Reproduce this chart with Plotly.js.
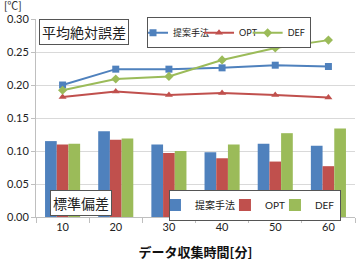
<!DOCTYPE html>
<html><head><meta charset="utf-8">
<script src="https://cdn.plot.ly/plotly-3.0.1.min.js"></script>
<style>html,body{margin:0;padding:0;background:#fff}</style>
</head><body><div id="chart" style="width:359px;height:266px"></div>
<script>
const categories = ["10","20","30","40","50","60"];
const seriesNames = ["提案手法","OPT","DEF"];
// 平均絶対誤差 (lines)
const maeProposed = [0.200,0.224,0.224,0.226,0.230,0.228];
const maeOPT      = [0.182,0.190,0.185,0.188,0.185,0.181];
const maeDEF      = [0.192,0.209,0.213,0.238,0.256,0.268];
// 標準偏差 (bars)
const sdProposed = [0.115,0.130,0.110,0.098,0.111,0.108];
const sdOPT      = [0.110,0.117,0.097,0.089,0.084,0.077];
const sdDEF      = [0.111,0.119,0.100,0.110,0.127,0.134];
const yTicks = [0,0.05,0.10,0.15,0.20,0.25,0.30];

const colors = ["#4F81BD","#C0504D","#9BBB59"];
const symbols = ["square","triangle-up","diamond"];
const font = "Lato, 'Noto Sans CJK JP', sans-serif";
const cjk = "'Noto Sans CJK JP', sans-serif";

const bars = [sdProposed, sdOPT, sdDEF].map((v,i)=>({
  type:"bar", x:categories, y:v, name:seriesNames[i],
  marker:{color:colors[i]}, legend:"legend2"
}));
const lines = [maeProposed, maeOPT, maeDEF].map((v,i)=>({
  type:"scatter", mode:"lines+markers", x:categories, y:v, name:seriesNames[i],
  line:{color:colors[i], width:2}, marker:{color:colors[i], symbol:symbols[i], size:7},
  legend:"legend"
}));

const layout = {
  width:359, height:266,
  margin:{l:36, r:4, t:19, b:49},
  paper_bgcolor:"#fff", plot_bgcolor:"#fff",
  font:{family:font, size:11, color:"#333"},
  barmode:"group", bargap:0.34, bargroupgap:0,
  showlegend:true,
  xaxis:{
    type:"category", tickson:"boundaries", ticks:"outside", ticklen:5, tickcolor:"#bfbfbf",
    showline:true, linecolor:"#bfbfbf", showgrid:false,
    tickfont:{size:11, color:"#222", family:font},
    title:{text:"データ収集時間[分]", font:{size:13, color:"#111", family:cjk, weight:"bold"}, standoff:15}
  },
  yaxis:{
    range:[0,0.30], tickvals:yTicks, tickformat:".2f",
    ticks:"outside", ticklen:4, tickcolor:"#bfbfbf",
    showline:true, linecolor:"#bfbfbf", gridcolor:"#d9d9d9", zeroline:false,
    tickfont:{size:11, color:"#222", family:font}
  },
  legend:{
    orientation:"h", x:0.348, y:0.93, xanchor:"left", yanchor:"middle",
    bordercolor:"#555", borderwidth:1, bgcolor:"#fff",
    font:{size:9, family:font, color:"#222"}, itemwidth:30, indentation:-15,
    tracegroupgap:0, traceorder:"normal"
  },
  legend2:{
    orientation:"h", x:0.956, y:0.06, xanchor:"right", yanchor:"middle",
    bordercolor:"#555", borderwidth:1, bgcolor:"#fff",
    font:{size:10, family:font, color:"#222"}, itemwidth:30, indentation:-15,
    traceorder:"normal"
  },
  annotations:[
    {text:"平均絶対誤差", xref:"paper", yref:"paper", x:0.15, y:0.934, xanchor:"center", yanchor:"middle", showarrow:false,
     font:{size:14, color:"#222", family:cjk},
     bordercolor:"#555", borderwidth:1, borderpad:2, bgcolor:"#fff"},
    {text:"標準偏差", xref:"paper", yref:"paper", x:0.14, y:0.073, xanchor:"center", yanchor:"middle", showarrow:false,
     font:{size:14, color:"#222", family:cjk},
     bordercolor:"#555", borderwidth:1, borderpad:2, bgcolor:"#fff"},
    {text:"[℃]", xref:"paper", yref:"paper", x:-0.107, y:1.07, xanchor:"left", yanchor:"middle",
     showarrow:false, font:{size:11, color:"#333", family:font}}
  ]
};

Plotly.newPlot("chart", bars.concat(lines), layout, {displayModeBar:false, staticPlot:true});
</script></body></html>
